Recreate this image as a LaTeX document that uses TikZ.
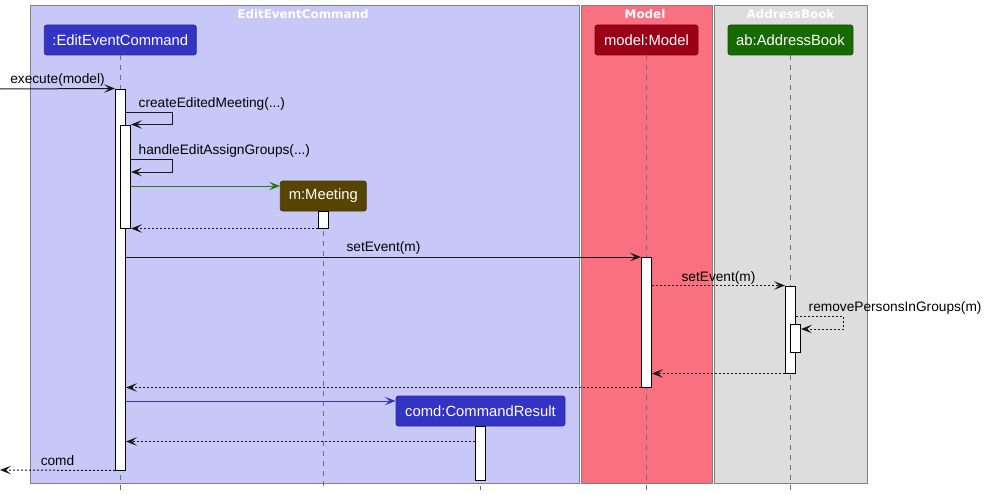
\documentclass[tikz,border=0pt]{standalone}
\usepackage{fontspec}
\setmainfont{Liberation Sans}
\newfontfamily\titlefont{DejaVu Sans}
\usetikzlibrary{arrows.meta}
\definecolor{lav}{HTML}{C8C8F8}
\definecolor{pinkbox}{HTML}{F97181}
\definecolor{graybox}{HTML}{DDDDDD}
\definecolor{framegray}{HTML}{808080}
\definecolor{lifegray}{HTML}{707070}
\definecolor{eecblue}{HTML}{3434C4}
\definecolor{modelred}{HTML}{9A0016}
\definecolor{abgreen}{HTML}{176A00}
\definecolor{meetbrown}{HTML}{574400}
\definecolor{greenarrow}{HTML}{1F7A0A}
\definecolor{bluearrow}{HTML}{3434C4}
\definecolor{msgblack}{HTML}{181818}
\begin{document}
\begin{tikzpicture}[x=1pt,y=-1pt,
  >={Stealth[length=11pt,width=8.5pt,inset=5pt]},
  boxframe/.style={draw=framegray, line width=1pt},
  boxtitle/.style={text=white, font=\titlefont\bfseries\fontsize{11.9}{14}\selectfont, inner sep=0pt},
  part/.style={rounded corners=2.5pt, text=white, font=\fontsize{14.8}{17}\selectfont, minimum height=30pt, inner sep=0pt, line width=0.8pt},
  act/.style={draw=black, fill=white, line width=1pt, minimum width=10pt, inner sep=0pt},
  lifeline/.style={draw=lifegray, line width=1pt, dash pattern=on 5pt off 5pt},
  msg/.style={->, draw=msgblack, line width=1pt},
  ret/.style={->, draw=msgblack, line width=1pt, dash pattern=on 2pt off 2pt},
  lbl/.style={font=\fontsize{13.7}{16}\selectfont, text=black, inner sep=0pt},
]
\useasboundingbox (0,0) rectangle (985,495);

% boxes
\draw[boxframe, fill=lav] (30,6) rectangle (579.5,483);
\draw[boxframe, fill=pinkbox] (581,6) rectangle (712.5,483);
\draw[boxframe, fill=graybox] (714,6) rectangle (867,483);
\node[boxtitle] (t1) at (303,14.5) {EditEventCommand};
\node[boxtitle] (t2) at (645,14.5) {Model};
\node[boxtitle] (t3) at (790.5,14.5) {AddressBook};

% participants
\node[part, fill=eecblue, draw=eecblue!80!black, minimum width=152pt] (eec) at (120.3,40) {:EditEventCommand};
\node[part, fill=modelred, draw=modelred!80!black, minimum width=103pt] (model) at (646.5,40) {model:Model};
\node[part, fill=abgreen, draw=abgreen!80!black, minimum width=125pt] (ab) at (790.5,40) {ab:AddressBook};
\node[part, fill=meetbrown, draw=meetbrown!80!black, minimum width=86pt] (meet) at (323.3,196) {m:Meeting};
\node[part, fill=eecblue, draw=eecblue!80!black, minimum width=169pt] (comd) at (480.5,411) {comd:CommandResult};

% lifeline ends
\coordinate (eecEnd) at (120.3,490);
\coordinate (modelEnd) at (646.5,490);
\coordinate (abEnd) at (790.5,490);
\coordinate (meetEnd) at (323.3,490);
\coordinate (comdEnd) at (480.5,490);
\draw[lifeline] (eec.south) -- (eecEnd);
\draw[lifeline] (model.south) -- (modelEnd);
\draw[lifeline] (ab.south) -- (abEnd);
\draw[lifeline] (meet.south) -- (meetEnd);
\draw[lifeline] (comd.south) -- (comdEnd);

% activations
\node[act, minimum height=381pt] (act1) at (120.5,279.5) {};
\node[act, minimum height=103pt] (act2) at (125.5,176.5) {};
\node[act, minimum height=17pt] (actM) at (323.3,219.5) {};
\node[act, minimum height=129.5pt] (actModel) at (646.5,322.25) {};
\node[act, minimum height=87pt] (actAB) at (790.5,329.5) {};
\node[act, minimum height=28pt] (actAB2) at (795.5,338.5) {};
\node[act, minimum height=54pt] (actC) at (480.5,453) {};

% free ends
\coordinate (inStart) at (0,89);
\coordinate (outEnd) at (0,470);

% execute(model)
\draw[msg] (inStart) -- (act1.north west)
  node[lbl, midway, anchor=base, yshift=5.5pt] (l1) {execute(model)};

% createEditedMeeting(...)
\coordinate (s1) at ([yshift=-23.5pt]act1.north east);
\draw[msg] (s1) -- ++(46.5,0) |- (act2.north east);
\node[lbl, anchor=base west] (l2) at ([xshift=12.5pt,yshift=5pt]s1) {createEditedMeeting(...)};

% handleEditAssignGroups(...)
\coordinate (s2) at ([yshift=-34.5pt]act2.north east);
\coordinate (e2) at ([yshift=-47.5pt]act2.north east);
\draw[msg] (s2) -- ++(41.5,0) |- (e2);
\node[lbl, anchor=base west] (l3) at ([xshift=7.5pt,yshift=5pt]s2) {handleEditAssignGroups(...)};

% create m:Meeting
\coordinate (mtgIn) at ([yshift=10pt]meet.west);
\draw[msg, draw=greenarrow] (act2.east |- mtgIn) -- (mtgIn);

% return from meeting
\draw[ret] (actM.south west) -- (act2.south east);

% setEvent(m) to model
\draw[msg] (act1.east |- actModel.north west) -- (actModel.north west)
  node[lbl, midway, anchor=base, yshift=5.5pt] (l4) {setEvent(m)};

% setEvent(m) to ab
\draw[ret] (actModel.east |- actAB.north west) -- (actAB.north west)
  node[lbl, midway, anchor=base, yshift=4.5pt] (l5) {setEvent(m)};

% removePersonsInGroups(m)
\coordinate (s3) at ([yshift=-30.5pt]actAB.north east);
\coordinate (e3) at ([yshift=-5pt]actAB2.north east);
\draw[ret] (s3) -- ++(47.5,0) |- (e3);
\node[lbl, anchor=base west] (l6) at ([xshift=12.5pt,yshift=5pt]s3) {removePersonsInGroups(m)};

% returns
\draw[ret] (actAB.south west) -- (actModel.east |- actAB.south west);
\draw[ret] (actModel.south west) -- (act1.east |- actModel.south west);

% create comd
\coordinate (cIn) at ([yshift=10pt]comd.west);
\draw[msg, draw=bluearrow] (act1.east |- cIn) -- (cIn);

% return from comd
\coordinate (cr) at ([yshift=-16pt]actC.north west);
\draw[ret] (cr) -- (act1.east |- cr);

% return comd
\draw[ret] (act1.south west) -- (outEnd)
  node[lbl, midway, anchor=base, yshift=5pt] (l7) {comd};
\end{tikzpicture}
\end{document}
